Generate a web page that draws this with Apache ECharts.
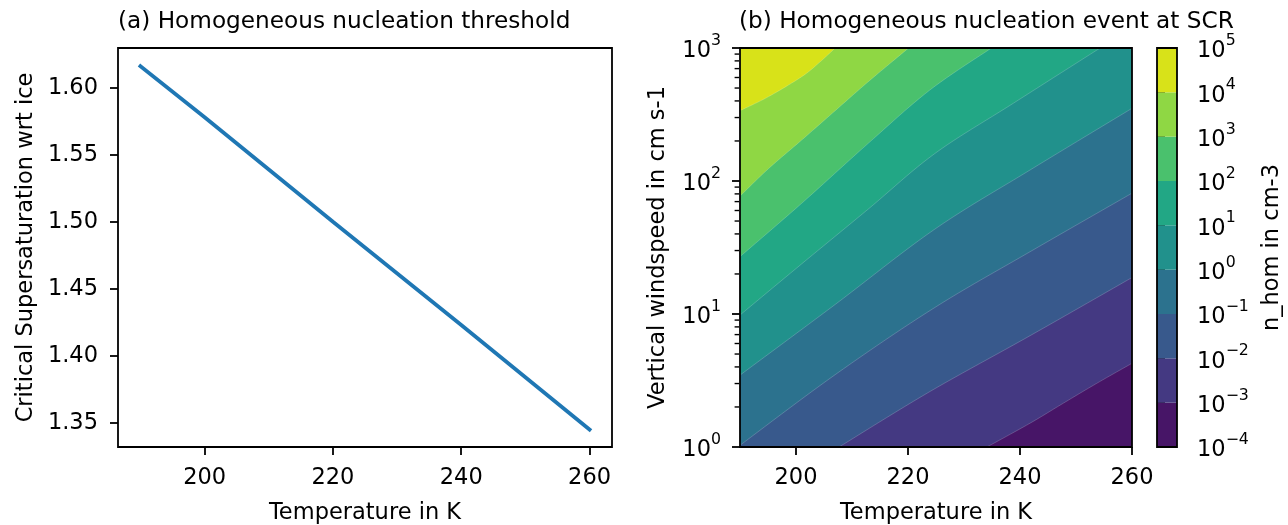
<!DOCTYPE html>
<html>
<head>
<meta charset="utf-8">
<title>Homogeneous nucleation</title>
<script src="https://cdn.jsdelivr.net/npm/echarts@6/dist/echarts.min.js"></script>
<style>
  html, body { margin: 0; padding: 0; background: #fff; }
  #chart { width: 1288px; height: 525px; }
</style>
</head>
<body>
<div id="chart"></div>
<script>
// (a) critical supersaturation
const tempA = [190, 200, 220, 240, 260];
const sCrit = [1.616, 1.578, 1.500, 1.423, 1.345];

// (b) contour lines of n_hom, as [T, w] points
// each line is the boundary at one level, from the left/bottom edge to the top/right edge
const iso_m3 = [[234.1, 1], [241.8, 1.51], [247.7, 2.13], [253.7, 3.01], [260, 4.26]];
const iso_m2 = [[207.7, 1], [223.9, 2.61], [241.8, 6.87], [260, 18.8]];
const iso_m1 = [[190, 1.03], [207, 3.5], [224.8, 11.2], [241.8, 29.4], [260, 81]];
const iso_0 = [[190, 3.47], [207, 11.8], [224.8, 43.5], [241.8, 121], [260, 352]];
const iso_1 = [[190, 9.82], [201, 23.8], [212.9, 61.5], [224.8, 161], [238.8, 384], [254.3, 1000]];
const iso_2 = [[190, 27], [201, 67.9], [212.9, 192], [223.9, 483], [234.9, 1000]];
const iso_3 = [[190, 77], [195.1, 124], [201, 203], [207, 338], [212.9, 558], [220.1, 1000]];
const iso_4 = [[190, 338], [195.1, 431], [201, 608], [204, 767], [207, 1000]];

// colorbar levels and ticks
const cbLevels = [1e-4, 1e-3, 1e-2, 1e-1, 1, 10, 100, 1e3, 1e4, 1e5];
const wMajor = [1, 10, 100, 1000];
const wMinor = [2, 3, 4, 5, 6, 7, 8, 9, 20, 30, 40, 50, 60, 70, 80, 90, 200, 300, 400, 500, 600, 700, 800, 900];
const tTicks = [200, 220, 240, 260];
const sTicks = [1.35, 1.40, 1.45, 1.50, 1.55, 1.60];

// viridis, one colour per band (lowest band first)
const bandColors = ['#471567', '#443982', '#38598c', '#2c728e', '#21918c', '#22a785', '#4ac16d', '#8fd744', '#d8e219'];

const isoLines = [iso_m3, iso_m2, iso_m1, iso_0, iso_1, iso_2, iso_3, iso_4];
const tMin = 190, tMax = 260, wMin = 1, wMax = 1000;

// smooth a pixel polyline (catmull-rom), only for drawing
function smoothPx(pts) {
    const out = [pts[0]];
    for (let i = 0; i < pts.length - 1; i++) {
        const p0 = pts[i - 1] || pts[i], p1 = pts[i], p2 = pts[i + 1], p3 = pts[i + 2] || pts[i + 1];
        for (let s = 1; s <= 12; s++) {
            const t = s / 12, t2 = t * t, t3 = t2 * t;
            out.push([0, 1].map(j => 0.5 * (2 * p1[j] + (-p0[j] + p2[j]) * t +
                (2 * p0[j] - 5 * p1[j] + 4 * p2[j] - p3[j]) * t2 + (-p0[j] + 3 * p1[j] - 3 * p2[j] + p3[j]) * t3)));
        }
    }
    return out;
}

// region above a contour line (towards the top-left corner), in pixels
function bandOutline(k, api) {
    if (k === 0) return [[tMin, wMin], [tMax, wMin], [tMax, wMax], [tMin, wMax]].map(p => api.coord(p));
    const line = isoLines[k - 1];
    const pts = smoothPx(line.map(p => api.coord(p)));
    if (line[line.length - 1][0] >= tMax) pts.push(api.coord([tMax, wMax]));
    pts.push(api.coord([tMin, wMax]));
    if (line[0][0] > tMin) pts.push(api.coord([tMin, wMin]));
    return pts;
}

const FONT = 'DejaVu Sans';
const FS = 22.5;
const black = '#000';

function powLabel(v) {
    const e = Math.round(Math.log10(v));
    return '{b|10}{s|' + (e < 0 ? '\u2212' + (-e) : e) + '}';
}
const powRich = {
    b: { fontSize: FS, fontFamily: FONT, color: black, verticalAlign: 'bottom', lineHeight: 30 },
    s: { fontSize: 15.75, fontFamily: FONT, color: black, verticalAlign: 'top', lineHeight: 18 }
};

const tick = { show: true, length: 8, lineStyle: { color: black, width: 1.8 } };
const nameStyle = { color: black, fontFamily: FONT, fontSize: FS };
const titleStyle = { color: black, fontFamily: FONT, fontSize: 23.2, fontWeight: 'normal' };
const gridBox = { show: true, z: 10, borderColor: black, borderWidth: 1.8, backgroundColor: 'transparent', containLabel: false, outerBoundsMode: 'none' };

const chart = echarts.init(document.getElementById('chart'));

const option = {
    animation: false,
    backgroundColor: '#fff',
    title: [
        { text: '(a) Homogeneous nucleation threshold', left: 118, top: 10, padding: 0, textStyle: titleStyle },
        { text: '(b) Homogeneous nucleation event at SCR', left: 739, top: 10, padding: 0, textStyle: titleStyle }
    ],
    grid: [
        Object.assign({ left: 118, top: 48, width: 494, height: 399 }, gridBox),
        Object.assign({ left: 740, top: 48, width: 392, height: 399 }, gridBox),
        Object.assign({ left: 1157, top: 48, width: 20, height: 399 }, gridBox)
    ],
    xAxis: [
        {
            gridIndex: 0, type: 'value', min: 186.5, max: 263.5,
            axisLine: { show: false }, splitLine: { show: false },
            axisTick: Object.assign({ customValues: tTicks }, tick),
            axisLabel: { customValues: tTicks, margin: 20, color: black, fontFamily: FONT, fontSize: FS },
            name: 'Temperature in K', nameLocation: 'middle', nameGap: 55, nameTextStyle: nameStyle
        },
        {
            gridIndex: 1, type: 'value', min: tMin, max: tMax,
            axisLine: { show: false }, splitLine: { show: false },
            axisTick: Object.assign({ customValues: tTicks }, tick),
            axisLabel: { customValues: tTicks, margin: 20, color: black, fontFamily: FONT, fontSize: FS },
            name: 'Temperature in K', nameLocation: 'middle', nameGap: 55, nameTextStyle: nameStyle
        },
        {
            gridIndex: 2, type: 'value', min: 0, max: 1, show: false
        }
    ],
    yAxis: [
        {
            gridIndex: 0, type: 'value', min: 1.332, max: 1.6296,
            axisLine: { show: false }, splitLine: { show: false },
            axisTick: Object.assign({ customValues: sTicks }, tick),
            axisLabel: { customValues: sTicks, margin: 20, color: black, fontFamily: FONT, fontSize: FS,
                         formatter: v => v.toFixed(2) },
            name: 'Critical Supersaturation wrt ice', nameLocation: 'middle', nameRotate: 90, nameGap: 80,
            nameTextStyle: nameStyle
        },
        {
            gridIndex: 1, type: 'log', logBase: 10, min: wMin, max: wMax, position: 'left',
            axisLine: { show: false }, splitLine: { show: false }, minorTick: { show: false },
            axisTick: Object.assign({ customValues: wMajor }, tick),
            axisLabel: { customValues: wMajor, margin: 19, formatter: powLabel, rich: powRich },
            name: 'Vertical windspeed in cm s-1', nameLocation: 'middle', nameRotate: 90, nameGap: 70,
            nameTextStyle: nameStyle
        },
        {
            gridIndex: 2, type: 'log', logBase: 10, min: 1e-4, max: 1e5, position: 'right',
            axisLine: { show: false }, splitLine: { show: false }, minorTick: { show: false },
            axisTick: Object.assign({ customValues: cbLevels }, tick),
            axisLabel: { customValues: cbLevels, margin: 20, formatter: powLabel, rich: powRich },
            name: 'n_hom in cm-3', nameLocation: 'middle', nameRotate: 90, nameGap: 84,
            nameTextStyle: nameStyle
        }
    ],
    series: [
        {
            type: 'line', xAxisIndex: 0, yAxisIndex: 0,
            data: tempA.map((t, i) => [t, sCrit[i]]),
            showSymbol: false, symbol: 'none',
            lineStyle: { color: '#1f77b4', width: 3.8, cap: 'square' }
        },
        {
            // filled contour bands
            type: 'custom', xAxisIndex: 1, yAxisIndex: 1, clip: true,
            data: bandColors.map((c, k) => [tMin, wMin, k]),
            encode: { x: 0, y: 1 },
            renderItem: function (params, api) {
                const k = api.value(2);
                return {
                    type: 'polygon',
                    shape: { points: bandOutline(k, api) },
                    style: { fill: bandColors[k], stroke: k ? 'rgba(255,255,255,0.3)' : null, lineWidth: 0.6 }
                };
            }
        },
        {
            // minor ticks of the windspeed axis
            type: 'custom', xAxisIndex: 1, yAxisIndex: 1, clip: false, z: 20,
            data: wMinor.map(v => [tMin, v]),
            encode: { x: 0, y: 1 },
            renderItem: function (params, api) {
                const p = api.coord([api.value(0), api.value(1)]);
                return {
                    type: 'line',
                    shape: { x1: p[0] - 0.9, y1: p[1], x2: p[0] - 5.4, y2: p[1] },
                    style: { stroke: black, lineWidth: 1.4 }
                };
            }
        },
        {
            // colorbar
            type: 'custom', xAxisIndex: 2, yAxisIndex: 2,
            data: bandColors.map((c, k) => [0, cbLevels[k], k]),
            encode: { x: 0, y: 1 },
            renderItem: function (params, api) {
                const k = api.value(2);
                const a = api.coord([0, cbLevels[k + 1]]);
                const b = api.coord([1, cbLevels[k]]);
                return {
                    type: 'rect',
                    shape: { x: a[0], y: a[1], width: b[0] - a[0], height: b[1] - a[1] },
                    style: { fill: bandColors[k] }
                };
            }
        }
    ]
};

chart.setOption(option);
</script>
</body>
</html>
